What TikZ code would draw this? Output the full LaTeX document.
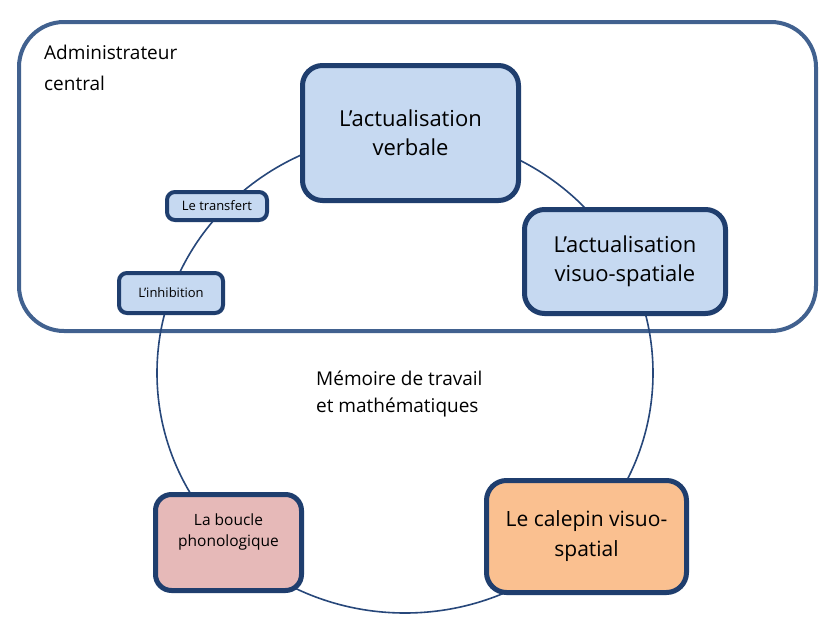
\documentclass[tikz,border=0pt]{standalone}
\usepackage{fontspec}
\setmainfont{Open Sans}
\definecolor{boxline}{HTML}{1F3E6E}
\definecolor{outerline}{HTML}{41618F}
\definecolor{ringline}{HTML}{27477A}
\definecolor{lightblue}{HTML}{C6D9F1}
\definecolor{rosefill}{HTML}{E6B9B8}
\definecolor{orangefill}{HTML}{FAC090}
\tikzset{
  bigbox/.style={draw=boxline, line width=5pt, rounded corners=20pt, align=center, inner sep=0pt,
    font=\fontsize{22}{29}\selectfont},
  smallbox/.style={draw=boxline, line width=4pt, rounded corners=8pt, fill=lightblue, align=center, inner sep=0pt,
    font=\fontsize{13}{16}\selectfont},
  plain/.style={align=left, inner sep=0pt, font=\fontsize{19}{31}\selectfont},
}
\begin{document}
\begin{tikzpicture}[x=1pt,y=-1pt]
\useasboundingbox (0,0) rectangle (836,635);
\fill[white] (0,0) rectangle (836,635);
% outer frame
\node[draw=outerline, line width=4pt, rounded corners=45pt, minimum width=797pt, minimum height=309pt, inner sep=0pt] (outer) at (417.5,176.5) {};
\node[plain, anchor=north west] (admin) at (44,45) {Administrateur\\central};
% ring
\draw[ringline, line width=1.6pt] (405,373) ellipse [x radius=248, y radius=240];
% boxes
\node[bigbox, fill=lightblue, minimum width=216pt, minimum height=135pt] (verbal) at (410.5,133) {L’actualisation\\verbale};
\node[bigbox, fill=lightblue, minimum width=201pt, minimum height=104pt] (visuo) at (625,261.5) {L’actualisation\\visuo-spatiale};
\node[smallbox, minimum width=100pt, minimum height=28pt] (transfert) at (217,206) {Le transfert};
\node[smallbox, minimum width=104pt, minimum height=40pt] (inhib) at (171,293) {L’inhibition};
\node[bigbox, fill=rosefill, rounded corners=16pt, minimum width=146pt, minimum height=96pt] (boucle) at (228.5,542.5) {};
\node[align=center, inner sep=0pt, font=\fontsize{15.5}{21}\selectfont] (bouclelabel) at (228.5,532) {La boucle\\phonologique};
\node[bigbox, fill=orangefill, minimum width=200pt, minimum height=112pt, font=\fontsize{21}{30}\selectfont] (calepin) at (586.5,536.5) {Le calepin visuo-\\spatial};
\node[plain, anchor=north west, font=\fontsize{19}{27}\selectfont] (memoire) at (316,371) {Mémoire de travail\\et mathématiques};
\end{tikzpicture}
\end{document}
